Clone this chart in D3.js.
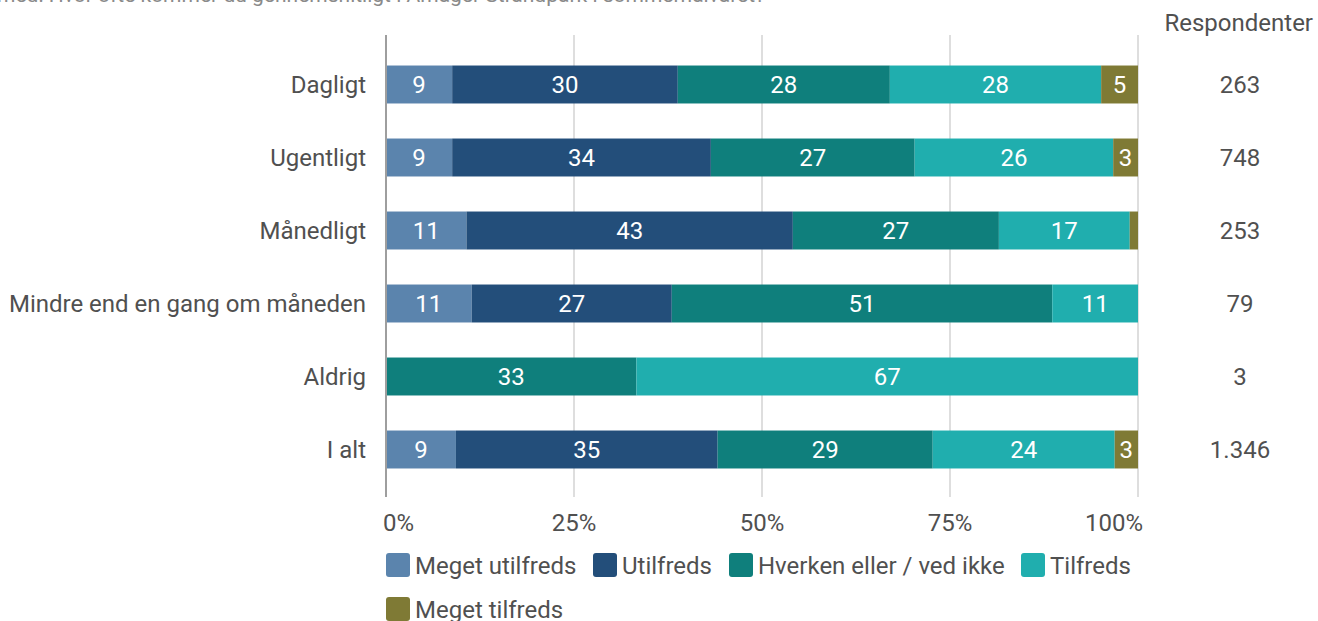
<!DOCTYPE html>
<html>
<head>
<meta charset="utf-8">
<script src="https://cdn.jsdelivr.net/npm/d3@7"></script>
<style>
  body { margin: 0; background: #fff; overflow: hidden; }
  text { font-family: Roboto, "Noto Sans", sans-serif; }
</style>
</head>
<body>
<div id="chart"></div>
<script>
var categories = ['Dagligt', 'Ugentligt', 'Månedligt', 'Mindre end en gang om måneden', 'Aldrig', 'I alt'];
var seriesNames = ['Meget utilfreds', 'Utilfreds', 'Hverken eller / ved ikke', 'Tilfreds', 'Meget tilfreds'];
var meget_utilfreds = [8.8, 8.8, 10.7, 11.4, 0, 9.3];
var utilfreds = [30.0, 34.4, 43.4, 26.6, 0, 34.8];
var hverken = [28.2, 27.1, 27.4, 50.6, 33.3, 28.6];
var tilfreds = [28.1, 26.4, 17.4, 11.4, 66.7, 24.2];
var meget_tilfreds = [4.9, 3.3, 1.1, 0, 0, 3.1];
var respondents = ['263', '748', '253', '79', '3', '1.346'];
var tickValues = [0, 25, 50, 75, 100];
var colors = ['#5b84ad', '#234e7a', '#0f7f7c', '#20aeae', '#7f7a35'];

var width = 1318, height = 621;
var svg = d3.select('#chart').append('svg')
  .attr('width', width)
  .attr('height', height);

var x = d3.scaleLinear().domain([0, 100]).range([386, 1138]);
var y = d3.scaleBand().domain(categories).range([48, 486]).paddingInner(0.48).paddingOuter(0.24);

// title, clipped at top like the reference
svg.append('text')
  .attr('x', -3)
  .attr('y', 2)
  .attr('font-size', 21)
  .attr('fill', '#8a8a8a')
  .text('med: Hvor ofte kommer du gennemsnitligt i Amager Strandpark i sommerhalvåret?');

// gridlines
svg.append('g').selectAll('line')
  .data(tickValues.slice(1))
  .enter().append('line')
  .attr('x1', function(d) { return x(d); })
  .attr('x2', function(d) { return x(d); })
  .attr('y1', 35)
  .attr('y2', 497)
  .attr('stroke', '#bdbdbd')
  .attr('stroke-width', 1);

var table = categories.map(function(c, i) {
  return {cat: c, vals: [meget_utilfreds[i], utilfreds[i], hverken[i], tilfreds[i], meget_tilfreds[i]]};
});
var stack = d3.stack().keys([0, 1, 2, 3, 4]).value(function(d, k) { return d.vals[k]; });
var series = stack(table);

var layers = svg.append('g').selectAll('g')
  .data(series)
  .enter().append('g')
  .attr('fill', function(d, i) { return colors[i]; });

layers.selectAll('rect')
  .data(function(d) { return d; })
  .enter().append('rect')
  .attr('x', function(d) { return x(d[0]); })
  .attr('y', function(d) { return y(d.data.cat); })
  .attr('width', function(d) { return x(d[1]) - x(d[0]); })
  .attr('height', y.bandwidth());

layers.selectAll('text')
  .data(function(d) { return d.filter(function(p) { return p[1] - p[0] >= 2; }); })
  .enter().append('text')
  .attr('x', function(d) { return (x(d[0]) + x(d[1])) / 2; })
  .attr('y', function(d) { return y(d.data.cat) + y.bandwidth() / 2; })
  .attr('dy', '0.36em')
  .attr('text-anchor', 'middle')
  .attr('font-size', 24)
  .attr('fill', '#fff')
  .text(function(d) { return Math.round(d[1] - d[0]); });

// axis line at 0
svg.append('line')
  .attr('x1', x(0)).attr('x2', x(0))
  .attr('y1', 35).attr('y2', 497)
  .attr('stroke', '#9e9e9e')
  .attr('stroke-width', 2);

// category labels
svg.append('g').selectAll('text')
  .data(categories)
  .enter().append('text')
  .attr('x', 366)
  .attr('y', function(d) { return y(d) + y.bandwidth() / 2; })
  .attr('dy', '0.36em')
  .attr('text-anchor', 'end')
  .attr('font-size', 24)
  .attr('fill', '#505050')
  .text(function(d) { return d; });

// tick labels
svg.append('g').selectAll('text')
  .data(tickValues)
  .enter().append('text')
  .attr('x', function(d) { return x(d); })
  .attr('y', 522)
  .attr('dy', '0.36em')
  .attr('text-anchor', function(d) { return d === 0 ? 'start' : (d === 100 ? 'end' : 'middle'); })
  .attr('dx', function(d) { return d === 0 ? -3 : (d === 100 ? 5 : 0); })
  .attr('font-size', 24)
  .attr('fill', '#505050')
  .text(function(d) { return d + '%'; });

// respondents column
svg.append('text')
  .attr('x', 1313)
  .attr('y', 22)
  .attr('dy', '0.36em')
  .attr('text-anchor', 'end')
  .attr('font-size', 24)
  .attr('fill', '#505050')
  .text('Respondenter');

svg.append('g').selectAll('text')
  .data(respondents)
  .enter().append('text')
  .attr('x', 1240)
  .attr('y', function(d, i) { return y(categories[i]) + y.bandwidth() / 2; })
  .attr('dy', '0.36em')
  .attr('text-anchor', 'middle')
  .attr('font-size', 24)
  .attr('fill', '#505050')
  .text(function(d) { return d; });

// legend
var legendPos = [[386, 565], [593, 565], [729, 565], [1021, 565], [386, 609]];
var legend = svg.append('g').selectAll('g')
  .data(seriesNames)
  .enter().append('g')
  .attr('transform', function(d, i) { return 'translate(' + legendPos[i][0] + ',' + legendPos[i][1] + ')'; });

legend.append('rect')
  .attr('x', 0).attr('y', -12)
  .attr('width', 24).attr('height', 24)
  .attr('rx', 3)
  .attr('fill', function(d, i) { return colors[i]; });

legend.append('text')
  .attr('x', 29)
  .attr('y', 0)
  .attr('dy', '0.36em')
  .attr('font-size', 24)
  .attr('fill', '#505050')
  .text(function(d) { return d; });
</script>
</body>
</html>
